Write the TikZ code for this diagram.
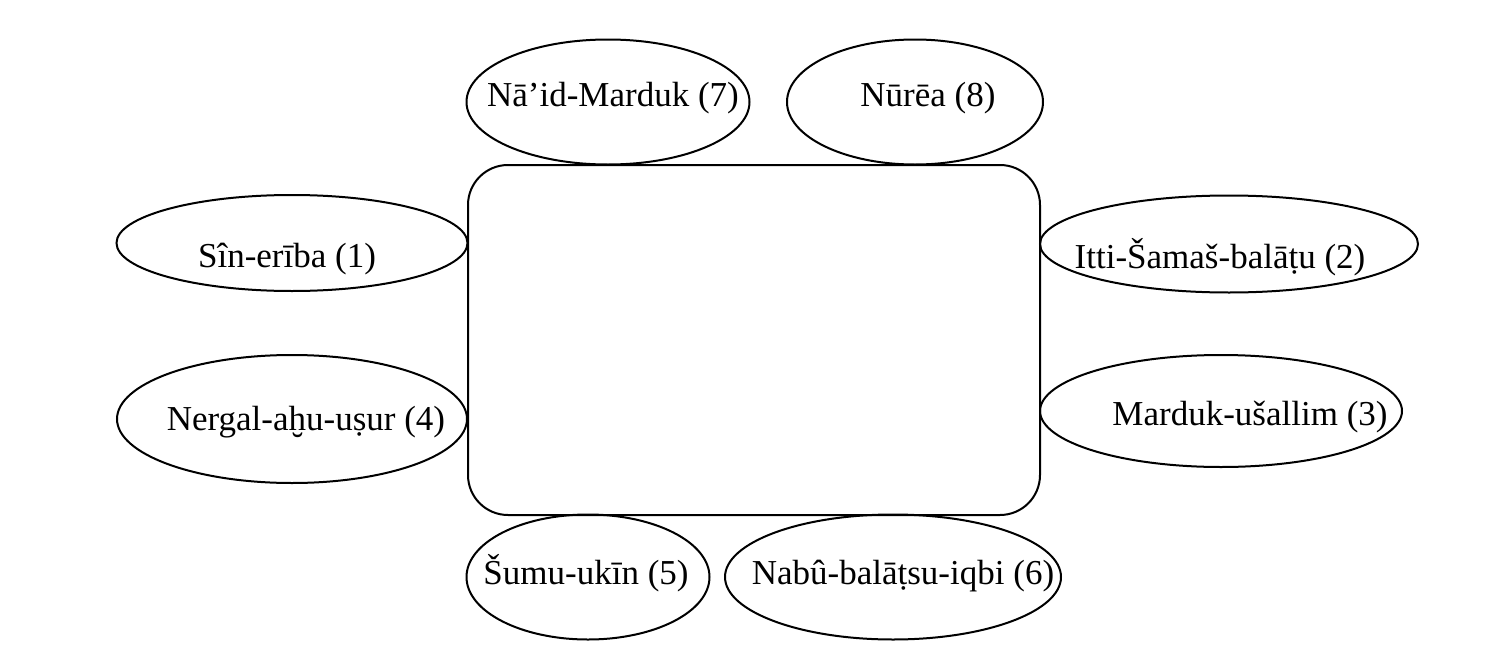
\documentclass[tikz,border=0pt]{standalone}
\usepackage{fontspec}
\setmainfont{Liberation Serif}
\usetikzlibrary{shapes.geometric}
\begin{document}
\begin{tikzpicture}[x=0.5pt,y=-0.5pt,
  every node/.style={inner sep=0pt},
  oval/.style={draw, ellipse, line width=1pt},
  nametext/.style={font=\fontsize{17.5}{20}\selectfont, anchor=base},
  hub/.style={draw, rectangle, rounded corners=20pt, line width=1pt, minimum width=286pt, minimum height=175pt}]
\useasboundingbox (0,0) rectangle (1489,669);
\fill[white] (0,0) rectangle (1489,669);
\node[hub] (box) at (754,340) {};
\node[oval, minimum width=141.5pt, minimum height=62.5pt] (e7) at (608,102) {};
\node[oval, minimum width=128pt, minimum height=62.5pt] (e8) at (915,102) {};
\node[oval, minimum width=175.5pt, minimum height=48pt] (e1) at (292,243) {};
\node[oval, minimum width=175pt, minimum height=64pt] (e4) at (292,419) {};
\node[oval, minimum width=189pt, minimum height=48.5pt] (e2) at (1229,244) {};
\node[oval, minimum width=181pt, minimum height=56pt] (e3) at (1221,411) {};
\node[oval, minimum width=121.5pt, minimum height=62.5pt] (e5) at (588,577) {};
\node[oval, minimum width=168pt, minimum height=62.5pt] (e6) at (893,577) {};
\node[nametext] (t7) at (613,106) {Nā'id-Marduk (7)};
\node[nametext] (t8) at (928,106) {Nūrēa (8)};
\node[nametext] (t1) at (287,267) {Sîn-erība (1)};
\node[nametext] (t4) at (306,430) {Nergal-aḫu-uṣur (4)};
\node[nametext] (t2) at (1220,268) {Itti-Šamaš-balāṭu (2)};
\node[nametext] (t3) at (1250,425) {Marduk-ušallim (3)};
\node[nametext] (t5) at (586,584) {Šumu-ukīn (5)};
\node[nametext] (t6) at (903,584) {Nabû-balāṭsu-iqbi (6)};
\end{tikzpicture}
\end{document}
